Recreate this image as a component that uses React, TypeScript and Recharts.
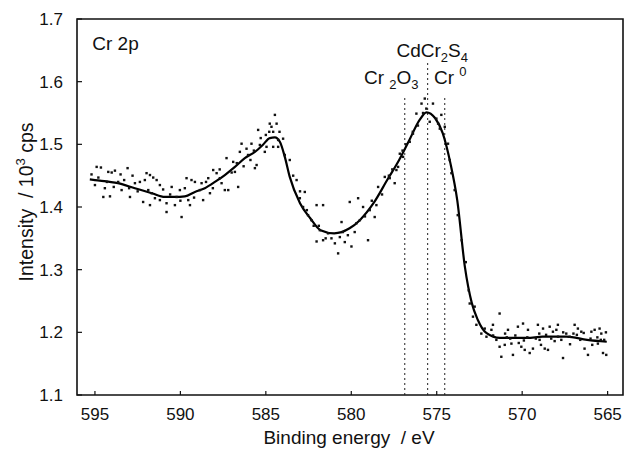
import React from 'react';
import {
  ComposedChart, Line, Scatter, XAxis, YAxis, ReferenceLine, ReferenceArea, ReferenceDot, Label,
} from 'recharts';

const FONT = '"Liberation Sans", Arial, sans-serif';

// smoothed fit through the spectrum (binding energy, intensity / 10^3 cps)
const LINE_E = [595.3, 595.0, 593.65, 592.66, 591.67, 590.91, 590.32, 589.74, 589.15, 588.57, 587.98, 587.4, 586.81, 586.23, 585.64, 585.18, 584.77, 584.47, 584.18, 583.89, 583.6, 583.0, 582.4, 581.8, 581.0, 580.1, 579.5, 578.7, 577.9, 577.2, 576.6, 576.0, 575.6, 575.1, 574.65, 574.2, 573.8, 573.35, 572.95, 572.6, 572.1, 571.3, 569.7, 568.8, 567.4, 566.2, 565.05];
const LINE_I = [1.444, 1.443, 1.438, 1.43, 1.422, 1.416, 1.416, 1.417, 1.424, 1.43, 1.44, 1.451, 1.464, 1.478, 1.488, 1.499, 1.51, 1.511, 1.504, 1.48, 1.448, 1.406, 1.382, 1.363, 1.358, 1.366, 1.379, 1.406, 1.443, 1.475, 1.507, 1.539, 1.551, 1.542, 1.518, 1.470, 1.411, 1.304, 1.247, 1.220, 1.199, 1.191, 1.191, 1.193, 1.193, 1.188, 1.185];

// raw counts
const DOT_E = [
  594.9, 594.65, 595.0, 594.51, 594.12, 594.22, 594.02, 593.83, 593.09, 594.42, 593.64, 593.29, 593.44, 592.95, 592.66, 592.37,
  592.08, 591.98, 591.78, 591.59, 591.39, 591.88, 591.68, 592.18, 591.78, 591.49, 591.2, 591.01, 590.81, 590.81, 590.51, 590.32,
  590.22, 589.93, 590.03, 589.74, 589.64, 589.35, 589.54, 589.44, 589.15, 588.86, 588.76, 588.67, 588.37, 588.27, 588.08, 587.88,
  587.69, 587.59, 587.4, 587.2, 587.3, 586.91, 586.81, 586.62, 586.52, 586.42, 586.13, 586.04, 585.84, 585.64, 585.54, 585.45,
  585.35, 585.06, 584.96, 584.77, 584.67, 584.57, 584.47, 584.37, 584.28, 584.57, 584.28, 583.99, 583.89, 583.6, 583.2, 583.01,
  582.72, 582.82, 582.53, 582.33, 582.03, 581.65, 581.84, 582.03, 581.65, 581.36, 581.16, 580.96, 580.77, 580.57, 580.67, 580.38,
  580.09, 579.99, 579.7, 579.6, 579.5, 579.31, 579.02, 578.92, 578.63, 578.53, 578.43, 578.04, 577.75, 577.46, 577.36, 577.16,
  577.26, 576.97, 576.58, 576.39, 576.19, 575.89, 575.7, 575.61, 575.41, 575.22, 575.02, 574.92, 574.82, 574.73, 574.53, 574.34,
  574.24, 574.14, 573.95, 573.77, 573.54, 573.3, 573.13, 573.07, 572.78, 572.88, 572.68, 572.39, 572.19, 572.09, 571.8, 571.71,
  571.32, 571.51, 571.32, 571.22, 571.02, 570.83, 570.63, 570.54, 570.25, 570.05, 569.95, 569.85, 569.66, 569.56, 569.37, 569.08,
  568.98, 568.78, 568.68, 568.49, 568.39, 568.2, 568.0, 567.91, 567.71, 567.61, 567.42, 567.22, 566.93, 566.74, 566.54, 566.35,
  566.15, 565.95, 565.76, 565.57, 565.47, 565.37, 565.27, 565.08, 570.9, 570.4, 569.2, 568.6, 567.9, 567.0, 566.6, 566.0,
  565.6, 565.2, 569.9, 568.3,
  595.2, 594.8, 594.3, 593.9, 593.5, 593.0, 592.5, 592.8, 591.2, 590.6, 590.0, 589.2, 588.5, 588.1, 587.7, 587.0,
  586.7, 586.3, 585.9, 585.7, 585.3, 585.0, 584.8, 584.2,
  571.7, 571.0, 570.7, 570.2, 569.7, 569.0, 568.9, 568.1, 567.6, 567.2, 566.8, 566.4, 565.9, 565.4, 565.1,
  579.8, 579.2, 578.8, 578.2, 577.8, 577.6, 577.0, 576.8, 576.4, 576.1, 575.8,
  583.4, 583.0, 582.6, 582.2, 581.9, 581.5, 580.5, 580.2,
];
const DOT_I = [
  1.464, 1.463, 1.435, 1.416, 1.417, 1.456, 1.455, 1.458, 1.462, 1.43, 1.44, 1.443, 1.427, 1.416, 1.438, 1.44,
  1.443, 1.454, 1.451, 1.447, 1.443, 1.427, 1.422, 1.408, 1.403, 1.414, 1.411, 1.428, 1.406, 1.392, 1.432, 1.403,
  1.416, 1.384, 1.427, 1.43, 1.446, 1.443, 1.411, 1.403, 1.44, 1.427, 1.438, 1.411, 1.446, 1.422, 1.459, 1.454,
  1.446, 1.438, 1.427, 1.427, 1.478, 1.472, 1.456, 1.432, 1.488, 1.501, 1.493, 1.483, 1.501, 1.462, 1.467, 1.523,
  1.499, 1.488, 1.496, 1.533, 1.528, 1.52, 1.547, 1.533, 1.507, 1.496, 1.496, 1.509, 1.483, 1.475, 1.443, 1.414,
  1.424, 1.4, 1.387, 1.379, 1.403, 1.403, 1.363, 1.345, 1.347, 1.358, 1.35, 1.342, 1.326, 1.376, 1.352, 1.344,
  1.408, 1.337, 1.374, 1.414, 1.379, 1.4, 1.347, 1.395, 1.384, 1.403, 1.432, 1.448, 1.446, 1.438, 1.459, 1.485,
  1.464, 1.48, 1.504, 1.517, 1.549, 1.565, 1.573, 1.557, 1.536, 1.565, 1.541, 1.533, 1.525, 1.547, 1.528, 1.501,
  1.475, 1.454, 1.427, 1.387, 1.347, 1.312, 1.267, 1.246, 1.241, 1.225, 1.212, 1.198, 1.206, 1.193, 1.204, 1.212,
  1.23, 1.188, 1.177, 1.161, 1.18, 1.204, 1.182, 1.164, 1.209, 1.177, 1.214, 1.172, 1.204, 1.167, 1.174, 1.212,
  1.188, 1.206, 1.174, 1.172, 1.209, 1.201, 1.204, 1.212, 1.188, 1.159, 1.198, 1.193, 1.212, 1.206, 1.201, 1.174,
  1.164, 1.201, 1.204, 1.182, 1.206, 1.198, 1.167, 1.164, 1.192, 1.195, 1.19, 1.196, 1.193, 1.198, 1.188, 1.19,
  1.192, 1.188, 1.187, 1.19,
  1.452, 1.447, 1.44, 1.432, 1.452, 1.43, 1.425, 1.45, 1.435, 1.42, 1.41, 1.415, 1.44, 1.43, 1.46, 1.455,
  1.47, 1.465, 1.475, 1.49, 1.51, 1.515, 1.52, 1.52,
  1.195, 1.198, 1.19, 1.183, 1.192, 1.198, 1.18, 1.186, 1.2, 1.181, 1.196, 1.199, 1.18, 1.188, 1.2,
  1.36, 1.385, 1.41, 1.42, 1.45, 1.46, 1.49, 1.5, 1.52, 1.53, 1.55,
  1.45, 1.425, 1.395, 1.37, 1.37, 1.35, 1.36, 1.355,
];

// reference positions of the chemical states
const REF_NAMES = ['Cr2O3', 'CdCr2S4', 'Cr0'];
const REF_E = [576.87, 575.53, 574.53];
const REF_TOP = [1.575, 1.63, 1.575];

const X_TICKS = [595, 590, 585, 580, 575, 570, 565];
const Y_TICKS = [1.1, 1.2, 1.3, 1.4, 1.5, 1.6, 1.7];

const lineData = LINE_E.map((e, i) => ({ e, v: LINE_I[i] }));
const dotData = DOT_E.map((e, i) => ({ e, v: DOT_I[i] }));

const Dot = (p: any) => <rect x={p.cx - 1.2} y={p.cy - 1.2} width={2.4} height={2.4} fill="#111" />;

const YTick = (p: any) => (
  <g>
    <text x={p.x} y={p.y} dy="0.36em" textAnchor="end" fontSize={17} fontFamily={FONT} fill="#111">
      {Number(p.payload.value).toFixed(1)}
    </text>
    <line x1={p.x + 14} x2={p.x + 19} y1={p.y} y2={p.y} stroke="#111" strokeWidth={1.2} />
  </g>
);

const XTick = (p: any) => (
  <g>
    <text x={p.x} y={p.y} dy="0.71em" textAnchor="middle" fontSize={17} fontFamily={FONT} fill="#111">
      {p.payload.value}
    </text>
    <line x1={p.x} x2={p.x} y1={p.y - 13} y2={p.y - 17} stroke="#111" strokeWidth={1.2} />
  </g>
);

const textAt = (children: React.ReactNode) => (props: any) => {
  const vb = props.viewBox;
  return (
    <text x={vb.x} y={vb.y} textAnchor="start" fontSize={19} fontFamily={FONT} fill="#111" xmlSpace="preserve">
      {children}
    </text>
  );
};

export default function App() {
  return (
    <div style={{ position: 'absolute', left: 0, top: 0, background: '#fff' }}>
      <ComposedChart width={625} height={451} margin={{ top: 19, right: 2, left: 0, bottom: 0 }}>
        <XAxis
          dataKey="e" type="number" domain={[564.1, 596.05]} reversed allowDataOverflow
          ticks={X_TICKS} tick={<XTick />} tickLine={false} tickSize={0} tickMargin={13}
          axisLine={false} height={56}
        >
          <Label
            content={(p: any) => (
              <text x={349} y={p.viewBox.y + 49} textAnchor="middle" xmlSpace="preserve"
                fontSize={19} fontFamily={FONT} fill="#111">Binding energy  / eV</text>
            )}
          />
        </XAxis>
        <YAxis
          dataKey="v" type="number" domain={[1.1, 1.7]} allowDataOverflow
          ticks={Y_TICKS} tick={<YTick />} tickLine={false} tickSize={0} tickMargin={14}
          axisLine={false} width={77}
        >
          <Label
            content={(p: any) => {
              const cx = 33;
              const cy = 202;
              return (
                <text x={cx} y={cy} transform={`rotate(-90 ${cx} ${cy})`} textAnchor="middle" xmlSpace="preserve"
                  fontSize={19.5} fontFamily={FONT} fill="#111">
                  Intensity  / 10<tspan dy={-8} fontSize={13}>3</tspan><tspan dy={8}> cps</tspan>
                </text>
              );
            }}
          />
        </YAxis>
        <ReferenceArea x1={564.1} x2={596.05} y1={1.1} y2={1.7} fill="none" stroke="#111" strokeWidth={1.6} />
        {REF_NAMES.map((n, i) => (
          <ReferenceLine
            key={n}
            segment={[{ x: REF_E[i], y: 1.1 }, { x: REF_E[i], y: REF_TOP[i] }]}
            stroke="#222" strokeWidth={1} strokeDasharray="2 3"
          />
        ))}
        <Scatter data={dotData} dataKey="v" shape={<Dot />} isAnimationActive={false} />
        <Line data={lineData} dataKey="v" type="monotone" stroke="#000" strokeWidth={2.2} dot={false} isAnimationActive={false} />
        <ReferenceDot x={595.1} y={1.649} r={1} fillOpacity={0} strokeWidth={0}
          label={textAt('Cr 2p')} />
        <ReferenceDot x={577.3} y={1.638} r={1} fillOpacity={0} strokeWidth={0}
          label={textAt(<>CdCr<tspan dy={5} fontSize={13}>2</tspan><tspan dy={-5}>S</tspan><tspan dy={5} fontSize={13}>4</tspan></>)} />
        <ReferenceDot x={579.2} y={1.595} r={1} fillOpacity={0} strokeWidth={0}
          label={textAt(<>Cr <tspan dy={5} fontSize={13}>2</tspan><tspan dy={-5}>O</tspan><tspan dy={5} fontSize={13}>3</tspan></>)} />
        <ReferenceDot x={575.1} y={1.595} r={1} fillOpacity={0} strokeWidth={0}
          label={textAt(<>Cr <tspan dy={-8} fontSize={13}>0</tspan></>)} />
      </ComposedChart>
    </div>
  );
}
